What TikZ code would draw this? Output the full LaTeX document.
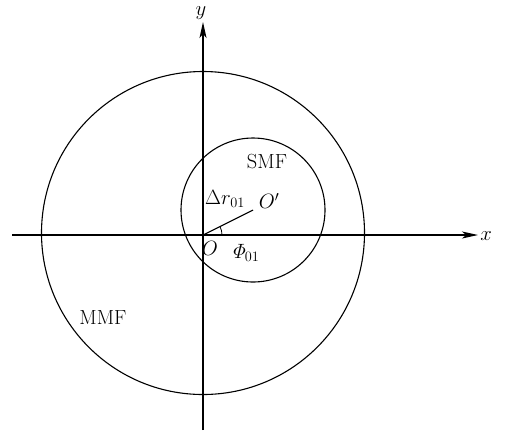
\documentclass[tikz,border=0pt]{standalone}
\usetikzlibrary{arrows.meta,calc}
\begin{document}
\begin{tikzpicture}[x=1bp,y=-1bp,
  axis/.style={line width=1.4bp,-{Stealth[length=16bp,width=7bp,inset=4bp]}},
  ring/.style={line width=1.1bp},
  lbl/.style={font=\fontsize{20.5}{24}\selectfont, inner sep=0pt}]
\useasboundingbox (0,0) rectangle (507,430);
\coordinate (O) at (203,235);
\coordinate (Op) at (253,210);
\coordinate (xs) at (12,235);
\coordinate (xe) at (478,235);
\coordinate (ys) at (203,430);
\coordinate (ye) at (203,22);
\draw[axis] (xs) -- (xe);
\draw[axis] (ys) -- (ye);
\draw[ring] (203,233) circle[radius=161.5];
\draw[ring] (Op) circle[radius=72];
\draw[line width=1.1bp] (O) -- (Op);
\draw[line width=0.8bp] ($(O)+(19,0)$) arc[start angle=0,end angle=-26.6,radius=19];
\node[lbl] (yl) at (201,13) {$y$};
\node[lbl] (xl) at (486,236) {$x$};
\node[lbl] (smf) at (267,162) {SMF};
\node[lbl] (mmf) at (103,318) {MMF};
\node[lbl] (dr) at (225,199) {$\Delta r_{01}$};
\node[lbl] (opl) at (269,201) {$O'$};
\node[lbl] (ol) at (210,248) {$O$};
\node[lbl] (phi) at (245,253) {$\mathit{\Phi}_{01}$};
\end{tikzpicture}
\end{document}
